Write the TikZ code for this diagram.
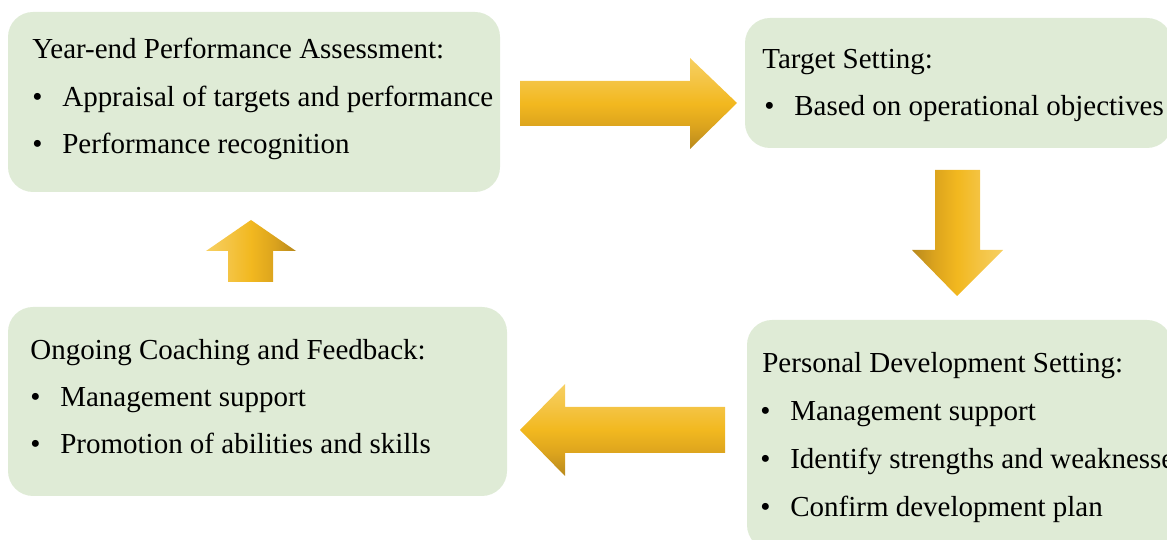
\documentclass[tikz,border=0pt]{standalone}
\usepackage{fontspec}
\setmainfont{Liberation Serif}
\definecolor{boxgreen}{HTML}{DFEBD6}
\definecolor{arrowlight}{HTML}{F7D062}
\definecolor{arrowsoft}{HTML}{F4C444}
\definecolor{arrowmid}{HTML}{F2B81F}
\definecolor{arrowdeep}{HTML}{DCA41E}
\definecolor{arrowdark}{HTML}{B8891D}
\pgfdeclareverticalshading{arrowfade}{100bp}{color(0bp)=(arrowdark); color(25bp)=(arrowdark);
  color(37.5bp)=(arrowdeep); color(50bp)=(arrowmid); color(62.5bp)=(arrowsoft);
  color(75bp)=(arrowlight); color(100bp)=(arrowlight)}
\newcommand{\itm}{\makebox[0.6cm][l]{\textbullet}}
\tikzset{
  box/.style={fill=boxgreen, draw=none, rounded corners=0.5cm},
  txt/.style={anchor=base west, inner sep=0pt, font=\fontsize{16.5}{19}\selectfont},
  blockarrow/.style={shading=arrowfade, shading angle=#1},
}
\begin{document}
\begin{tikzpicture}[x=0.02cm, y=-0.02cm]
  \useasboundingbox (0,0) rectangle (1167,540);
  \clip (0,0) rectangle (1167,540);

  % boxes
  \draw[box] (8,12) rectangle (500,192);
  \draw[box] (745,18) rectangle (1172,148);
  \draw[box] (747,320) rectangle (1172,550);
  \draw[box] (8,307) rectangle (507,496);

  % year-end assessment
  \node[txt] (assess) at (32,59) {Year-end Performance Assessment:};
  \node[txt] (assessa) at (32,107) {\itm Appraisal of targets and performance};
  \node[txt] (assessb) at (32,154) {\itm Performance recognition};

  % target setting
  \node[txt] (target) at (762,69) {Target Setting:};
  \node[txt] (targeta) at (764,116) {\itm Based on operational objectives};

  % personal development
  \node[txt] (develop) at (762,373) {Personal Development Setting:};
  \node[txt] (developa) at (760,421) {\itm Management support};
  \node[txt] (developb) at (760,469) {\itm Identify strengths and weaknesses};
  \node[txt] (developc) at (760,517) {\itm Confirm development plan};

  % coaching
  \node[txt] (coach) at (30,360) {Ongoing Coaching and Feedback:};
  \node[txt] (coacha) at (30,407) {\itm Management support};
  \node[txt] (coachb) at (30,454) {\itm Promotion of abilities and skills};

  % block arrows
  \shade[blockarrow=0] (520,81) -- (690,81) -- (690,58) -- (737,103) -- (690,149) -- (690,126) -- (520,126) -- cycle;
  \shade[blockarrow=-90] (935,170) -- (980,170) -- (980,250) -- (1003,250) -- (957,296) -- (912,250) -- (935,250) -- cycle;
  \shade[blockarrow=0] (725,407) -- (565,407) -- (565,384) -- (520,430) -- (565,476) -- (565,453) -- (725,453) -- cycle;
  \shade[blockarrow=90] (228,282) -- (228,251) -- (206,251) -- (251,220) -- (296,251) -- (273,251) -- (273,282) -- cycle;
\end{tikzpicture}
\end{document}
